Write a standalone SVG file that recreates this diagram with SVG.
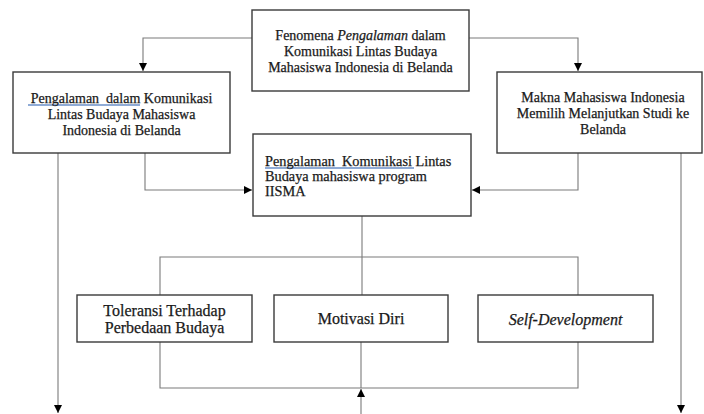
<svg xmlns="http://www.w3.org/2000/svg" width="704" height="414" viewBox="0 0 704 414">
<defs>
<marker id="ah" viewBox="0 0 10 10" refX="10" refY="5" markerWidth="8" markerHeight="8" markerUnits="userSpaceOnUse" orient="auto">
<path d="M0,0 L10,5 L0,10 z" fill="#000"/>
</marker>
</defs>
<style>
.box{fill:#fff;stroke:#3a3a3a;stroke-width:1.4}
.t{font-family:"Liberation Serif","Times New Roman",serif;font-size:14px;fill:#1a1a1a;stroke:#1a1a1a;stroke-width:0.25}
.b{font-size:16px}
.c{text-anchor:middle}
.ln{fill:none;stroke:#7a7a7a;stroke-width:1.1}
.ul{stroke:#6a8fc8;stroke-width:1.5}
</style>
<rect width="704" height="414" fill="#fff"/>
<g id="connectors">
<path class="ln" d="M252,38 H143 V71" marker-end="url(#ah)"/>
<path class="ln" d="M469,38 H578 V71" marker-end="url(#ah)"/>
<path class="ln" d="M145,153 V190 H252" marker-end="url(#ah)"/>
<path class="ln" d="M578,153 V190 H472" marker-end="url(#ah)"/>
<path class="ln" d="M58,153 V413" marker-end="url(#ah)"/>
<path class="ln" d="M681,153 V413" marker-end="url(#ah)"/>
<path class="ln" d="M362,216 V295"/>
<path class="ln" d="M160,295 V257 H578 V295"/>
<path class="ln" d="M160,342 V388 H578 V342"/>
<path class="ln" d="M361,342 V388"/>
<path class="ln" d="M361,414 V389" marker-end="url(#ah)"/>
</g>
<g id="n-top">
<rect class="box" x="252" y="10" width="217" height="81"/>
<text class="t c" x="360.5" y="40">Fenomena <tspan font-style="italic">Pengalaman</tspan> dalam</text>
<text class="t c" x="360.5" y="56">Komunikasi Lintas Budaya</text>
<text class="t c" x="360.5" y="72">Mahasiswa Indonesia di Belanda</text>
</g>
<g id="n-left">
<rect class="box" x="13" y="72" width="217" height="81"/>
<line class="ul" x1="28" y1="105" x2="140" y2="105"/>
<text class="t c" x="121.5" y="103" xml:space="preserve">Pengalaman  dalam Komunikasi</text>
<text class="t c" x="121.5" y="119">Lintas Budaya Mahasiswa</text>
<text class="t c" x="121.5" y="135">Indonesia di Belanda</text>
</g>
<g id="n-right">
<rect class="box" x="497" y="72" width="205" height="81"/>
<text class="t c" x="603" y="102">Makna Mahasiswa Indonesia</text>
<text class="t c" x="603" y="118">Memilih Melanjutkan Studi ke</text>
<text class="t c" x="603" y="134">Belanda</text>
</g>
<g id="n-center">
<rect class="box" x="253" y="134" width="218" height="82"/>
<line class="ul" x1="265" y1="168" x2="414" y2="168"/>
<text class="t" x="265" y="166" xml:space="preserve" style="font-size:14.3px">Pengalaman  Komunikasi Lintas</text>
<text class="t" x="265" y="181" style="font-size:14.3px">Budaya mahasiswa program</text>
<text class="t" x="265" y="196" style="font-size:14.3px">IISMA</text>
</g>
<g id="n-toleransi">
<rect class="box" x="77" y="295" width="175" height="47"/>
<text class="t b c" x="164.5" y="316">Toleransi Terhadap</text>
<text class="t b c" x="164.5" y="333">Perbedaan Budaya</text>
</g>
<g id="n-motivasi">
<rect class="box" x="274" y="295" width="174" height="47"/>
<text class="t b c" x="361" y="324">Motivasi Diri</text>
</g>
<g id="n-self">
<rect class="box" x="478" y="295" width="175" height="47"/>
<text class="t b c" x="565.5" y="325" font-style="italic">Self-Development</text>
</g>
</svg>
